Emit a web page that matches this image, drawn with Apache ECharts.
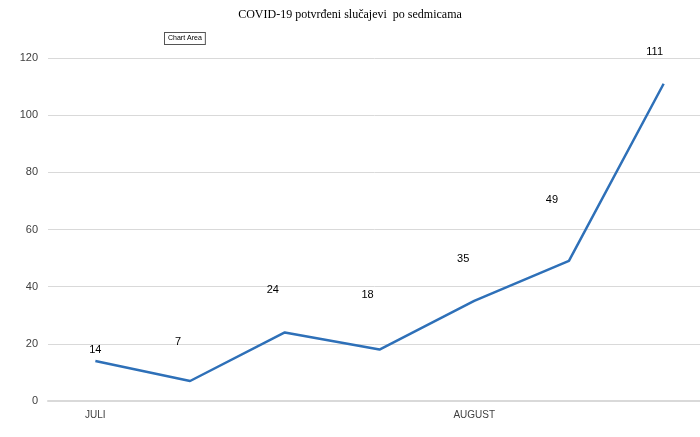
<!DOCTYPE html>
<html>
<head>
<meta charset="utf-8">
<script src="https://cdn.jsdelivr.net/npm/echarts@6/dist/echarts.min.js"></script>
<style>
html, body { margin: 0; padding: 0; background: #fff; }
#chart { width: 700px; height: 437px; }
</style>
</head>
<body>
<div id="chart"></div>
<script>
// potvrđeni slučajevi po sedmicama
const weeks = ['JULI', '', '', '', 'AUGUST', '', ''];
const cases = [14, 7, 24, 18, 35, 49, 111];
const yTicks = [0, 20, 40, 60, 80, 100, 120];

// pomak oznaka (kao u Excelu)
const labelShift = [[0, -1], [-12, -29], [-12, -32], [-12, -44], [-11, -31], [-17, -50], [-9, -21]];

const chart = echarts.init(document.getElementById('chart'));

const option = {
	backgroundColor: '#fff',
	animation: false,
	title: {
		text: 'COVID-19 potvrđeni slučajevi  po sedmicama',
		left: 'center',
		top: 4,
		textStyle: { fontFamily: 'Liberation Serif', fontSize: 12, fontWeight: 'normal', color: '#000' }
	},
	graphic: [{
		type: 'text',
		left: 164,
		top: 32,
		style: {
			text: 'Chart Area',
			font: '7px "Liberation Sans"',
			fill: '#000',
			backgroundColor: '#fff',
			borderColor: '#555',
			borderWidth: 1,
			padding: [2, 3]
		}
	}],
	grid: { left: 48, top: 58, width: 663, height: 343, outerBoundsMode: 'none', containLabel: false },
	xAxis: {
		type: 'category',
		data: weeks,
		boundaryGap: true,
		axisLine: { lineStyle: { color: '#d9d9d9', width: 2 } },
		axisTick: { show: false },
		axisLabel: { interval: 0, color: '#404040', fontFamily: 'Liberation Sans', fontSize: 10, margin: 9 }
	},
	yAxis: {
		type: 'value',
		min: yTicks[0],
		max: yTicks[yTicks.length - 1],
		interval: 20,
		axisLine: { show: false },
		axisTick: { show: false },
		axisLabel: { color: '#404040', fontFamily: 'Liberation Sans', fontSize: 11, margin: 10 },
		splitLine: { lineStyle: { color: '#d9d9d9', width: 1 } }
	},
	series: [{
		type: 'line',
		data: cases.map((v, i) => ({
			value: v,
			label: { offset: labelShift[i] }
		})),
		symbol: 'circle',
		symbolSize: 0,
		showSymbol: true,
		lineStyle: { color: '#2e70b8', width: 2.5 },
		itemStyle: { color: '#2e70b8' },
		label: {
			show: true,
			position: 'top',
			color: '#000',
			fontFamily: 'Liberation Sans',
			fontSize: 11
		}
	}]
};

chart.setOption(option);
</script>
</body>
</html>
